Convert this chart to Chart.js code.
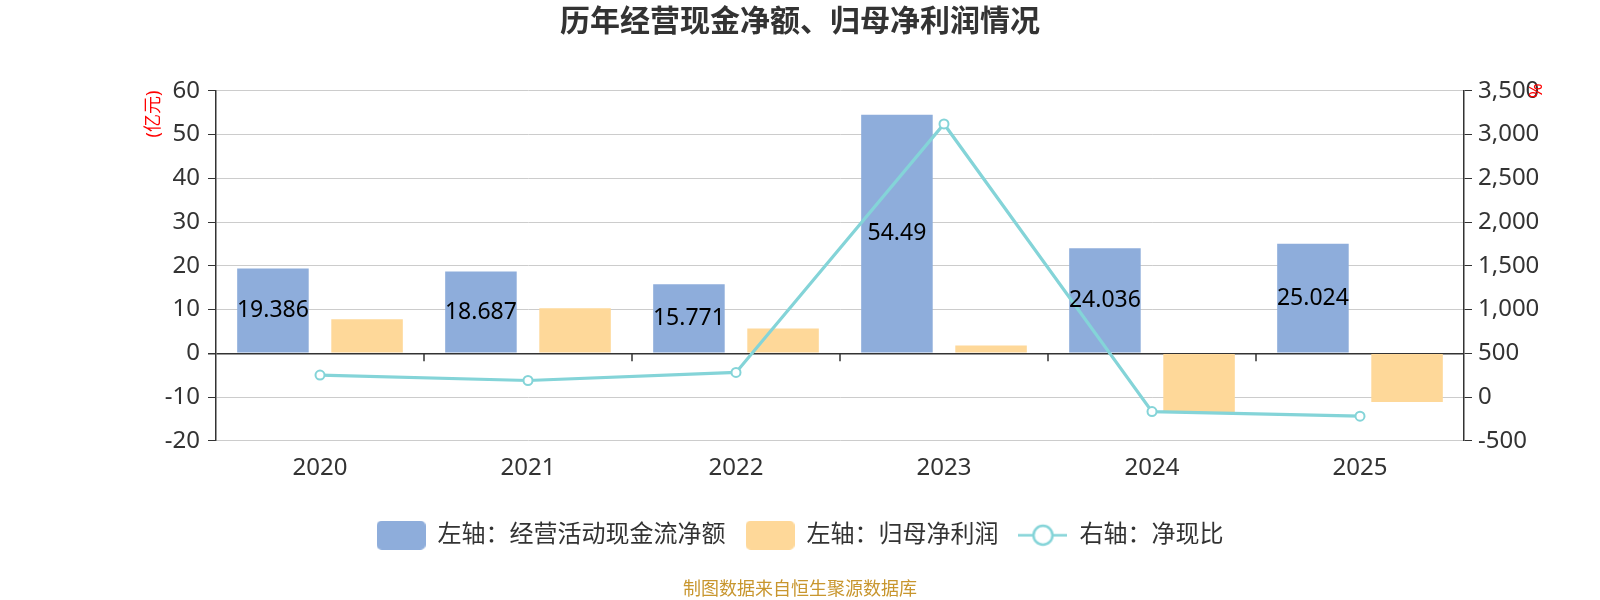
<!DOCTYPE html>
<html>
<head>
<meta charset="utf-8">
<script src="https://cdn.jsdelivr.net/npm/chart.js@4"></script>
<style>
  html, body { margin: 0; padding: 0; background: #fff; }
</style>
</head>
<body>
<canvas id="myChart" width="1600" height="600"></canvas>
<script>
'use strict';

const years = ['2020', '2021', '2022', '2023', '2024', '2025'];
// 左轴 (亿元)
const cashFlow = [19.386, 18.687, 15.771, 54.49, 24.036, 25.024];
const netProfit = [7.8, 10.3, 5.7, 1.8, -13.6, -11.1];
// 右轴 (%)
const cashRatio = [252, 190, 282, 3120, -165, -218];
// axis ranges: [min, max, step]
const leftRange = [-20, 60, 10];
const rightRange = [-500, 3500, 500];

const FAMILY = "'Noto Sans', 'Noto Sans CJK SC', sans-serif";
const BLUE = '#8eaddb';
const ORANGE = '#fed899';
const TEAL = '#84d4d8';

Chart.defaults.font.family = FAMILY;
Chart.defaults.color = '#333';

// legend icons
function makeIcon(draw) {
  const c = document.createElement('canvas');
  c.width = 49;
  c.height = 29;
  draw(c.getContext('2d'));
  return c;
}
function boxIcon(color) {
  return makeIcon((g) => {
    g.fillStyle = color;
    g.beginPath();
    g.roundRect(0, 0, 49, 29, 5);
    g.fill();
  });
}
const icons = [
  boxIcon(BLUE),
  boxIcon(ORANGE),
  makeIcon((g) => {
    g.strokeStyle = TEAL;
    g.lineWidth = 2.5;
    g.beginPath();
    g.moveTo(0, 14.5);
    g.lineTo(49, 14.5);
    g.stroke();
    g.fillStyle = '#fff';
    g.beginPath();
    g.arc(24.5, 14.5, 9.5, 0, Math.PI * 2);
    g.fill();
    g.stroke();
  }),
];

const extras = {
  id: 'extras',
  afterDatasetsDraw(chart) {
    const {ctx, scales: {x, y}} = chart;
    const zeroY = y.getPixelForValue(0);
    ctx.save();
    // category ticks under the zero line
    ctx.strokeStyle = '#333';
    ctx.lineWidth = 1.5;
    for (let i = 1; i < years.length; i++) {
      const bx = (x.getPixelForTick(i - 1) + x.getPixelForTick(i)) / 2;
      ctx.beginPath();
      ctx.moveTo(bx, zeroY);
      ctx.lineTo(bx, zeroY + 8);
      ctx.stroke();
    }
    // bar value labels
    ctx.fillStyle = '#000';
    ctx.font = '23px ' + FAMILY;
    ctx.textAlign = 'center';
    ctx.textBaseline = 'middle';
    chart.getDatasetMeta(0).data.forEach((bar, i) => {
      ctx.fillText(String(cashFlow[i]), bar.x, (bar.y + bar.base) / 2);
    });
    // axis units
    ctx.fillStyle = '#ff0000';
    ctx.font = '18px ' + FAMILY;
    ctx.save();
    ctx.translate(154, y.top);
    ctx.rotate(-Math.PI / 2);
    ctx.textAlign = 'right';
    ctx.fillText('(亿元)', 0, 0);
    ctx.restore();
    ctx.save();
    ctx.translate(1534, y.top);
    ctx.rotate(Math.PI / 2);
    ctx.textAlign = 'center';
    ctx.fillText('%', 0, 0);
    ctx.restore();
    ctx.restore();
  }
};

const ctx = document.getElementById('myChart');
const myChart = new Chart(ctx, {
  type: 'bar',
  data: {
    labels: years,
    datasets: [
      {
        label: '左轴：经营活动现金流净额',
        data: cashFlow,
        backgroundColor: BLUE,
        yAxisID: 'y',
        categoryPercentage: 0.905,
        barPercentage: 0.76,
      },
      {
        label: '左轴：归母净利润',
        data: netProfit,
        backgroundColor: ORANGE,
        yAxisID: 'y',
        categoryPercentage: 0.905,
        barPercentage: 0.76,
      },
      {
        type: 'line',
        label: '右轴：净现比',
        data: cashRatio,
        borderColor: TEAL,
        borderWidth: 3.2,
        pointRadius: 4.5,
        pointBackgroundColor: '#fff',
        pointBorderColor: TEAL,
        pointBorderWidth: 2,
        tension: 0,
        yAxisID: 'y1',
        order: -1,
      },
    ],
  },
  options: {
    responsive: false,
    animation: false,
    locale: 'en-US',
    layout: {padding: 0},
    scales: {
      x: {
        grid: {display: false, drawTicks: false},
        border: {display: false},
        ticks: {font: {size: 24}, color: '#333', padding: 13},
        afterFit(scale) { scale.height = 62.3; },
      },
      y: {
        position: 'left',
        min: leftRange[0],
        max: leftRange[1],
        ticks: {stepSize: leftRange[2], font: {size: 24}, color: '#333', padding: 8},
        grid: {
          color: (c) => (c.tick && c.tick.value === 0 ? '#333' : '#ccc'),
          lineWidth: (c) => (c.tick && c.tick.value === 0 ? 1.5 : 1),
          tickColor: '#333',
          tickLength: 8,
        },
        border: {color: '#333', width: 1.5},
        afterFit(scale) { scale.width = 216; },
      },
      y1: {
        position: 'right',
        min: rightRange[0],
        max: rightRange[1],
        ticks: {stepSize: rightRange[2], font: {size: 24}, color: '#333', padding: 6},
        grid: {drawOnChartArea: false, tickColor: '#333', tickLength: 8},
        border: {color: '#333', width: 1.5},
        afterFit(scale) { scale.width = 136; },
      },
    },
    plugins: {
      title: {
        display: true,
        text: '历年经营现金净额、归母净利润情况',
        font: {size: 30, weight: 'bold'},
        color: '#333',
        padding: {top: 4.5, bottom: 50.2},
      },
      subtitle: {
        display: true,
        position: 'bottom',
        text: '制图数据来自恒生聚源数据库',
        font: {size: 18, lineHeight: 1.1},
        color: '#c8962e',
        padding: {top: 23, bottom: 0},
      },
      legend: {
        position: 'bottom',
        labels: {
          usePointStyle: true,
          pointStyleWidth: 49,
          boxHeight: 29,
          padding: 20,
          font: {size: 24},
          color: '#333',
          generateLabels(chart) {
            const items = Chart.defaults.plugins.legend.labels.generateLabels(chart);
            items.sort((a, b) => a.datasetIndex - b.datasetIndex);
            items.forEach((it) => { it.pointStyle = icons[it.datasetIndex]; });
            return items;
          },
        },
      },
      tooltip: {enabled: false},
    },
  },
  plugins: [extras],
});
</script>
</body>
</html>
